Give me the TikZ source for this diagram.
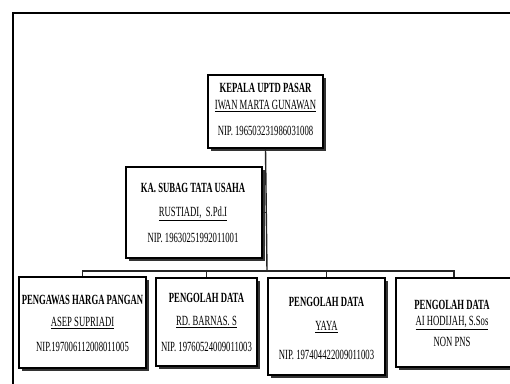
\documentclass[tikz,border=0pt]{standalone}
\usepackage{fontspec}
\setmainfont{Liberation Serif}
\newfontfamily\cond[FakeStretch=0.62]{Liberation Serif}
\begin{document}
\begin{tikzpicture}[x=1pt,y=-1pt,
  box/.style={draw=black,fill=white,line width=1.8pt,inner sep=0pt},
  shadow/.style={fill=black!80,draw=none},
  lbl/.style={font=\cond\fontsize{14}{14}\selectfont,inner sep=0pt,anchor=center},
  blbl/.style={font=\cond\bfseries\fontsize{14}{14}\selectfont,inner sep=0pt,anchor=center},
  conn/.style={draw=black!85,line width=1.4pt}]
\useasboundingbox (0,0) rectangle (510,383);
\clip (0,0) rectangle (510,383);
% outer frame
\draw[line width=1.6pt] (13,395) -- (13,13) -- (525,13);
% shadows
\fill[shadow] (211,78) rectangle (326,151);
\fill[shadow] (129,170) rectangle (265,261);
\fill[shadow] (22,280) rectangle (149,371);
\fill[shadow] (159,281) rectangle (260,369);
\fill[shadow] (271,281) rectangle (388,378);
\fill[shadow] (399,281) rectangle (515,370);
% boxes
\node[box,minimum width=115pt,minimum height=73pt] (top) at (265.5,111.5) {};
\node[box,minimum width=136pt,minimum height=91pt] (sub) at (194,212.5) {};
\node[box,minimum width=127pt,minimum height=91pt] (b1) at (82.5,322.5) {};
\node[box,minimum width=101pt,minimum height=88pt] (b2) at (206.5,322) {};
\node[box,minimum width=117pt,minimum height=97pt] (b3) at (326.5,326.5) {};
\node[box,minimum width=116pt,minimum height=89pt] (b4) at (454,322.5) {};
% connectors
\coordinate (bus) at (267,271);
\draw[conn] (top.south) -- (bus);
\draw[conn] (sub.east) -- (sub.east -| bus);
\draw[conn] (b1.north) |- (bus) -| (b4.north);
\draw[conn] (b2.north) -- (b2.north |- bus);
\draw[conn] (b3.north) -- (b3.north |- bus);
% texts
\node[blbl] (t1) at (265.5,88) {KEPALA UPTD PASAR};
\node[lbl] (t2) at (265.5,106) {\underline{IWAN MARTA GUNAWAN}};
\node[lbl] (t3) at (265.5,131) {NIP. 196503231986031008};
\node[blbl] (s1) at (193,188) {KA. SUBAG TATA USAHA};
\node[lbl] (s2) at (193,214) {\underline{RUSTIADI,\ \ S.Pd.I}};
\node[lbl] (s3) at (193,238) {NIP. 19630251992011001};
\node[blbl] (p1) at (82.5,300) {PENGAWAS HARGA PANGAN};
\node[lbl] (p2) at (82.5,323) {\underline{ASEP SUPRIADI}};
\node[lbl] (p3) at (82.5,347) {NIP.197006112008011005};
\node[blbl] (q1) at (206.5,298) {PENGOLAH DATA};
\node[lbl] (q2) at (206.5,322) {\underline{RD. BARNAS. S}};
\node[lbl] (q3) at (206.5,347) {NIP. 19760524009011003};
\node[blbl] (r1) at (326.5,302) {PENGOLAH DATA};
\node[lbl] (r2) at (326.5,327) {\underline{YAYA}};
\node[lbl] (r3) at (326.5,355) {NIP. 197404422009011003};
\node[blbl] (u1) at (452,305) {PENGOLAH DATA};
\node[lbl] (u2) at (452,323) {\underline{AI HODIJAH,\ S.Sos}};
\node[lbl] (u3) at (452,342) {NON PNS};
\end{tikzpicture}
\end{document}
